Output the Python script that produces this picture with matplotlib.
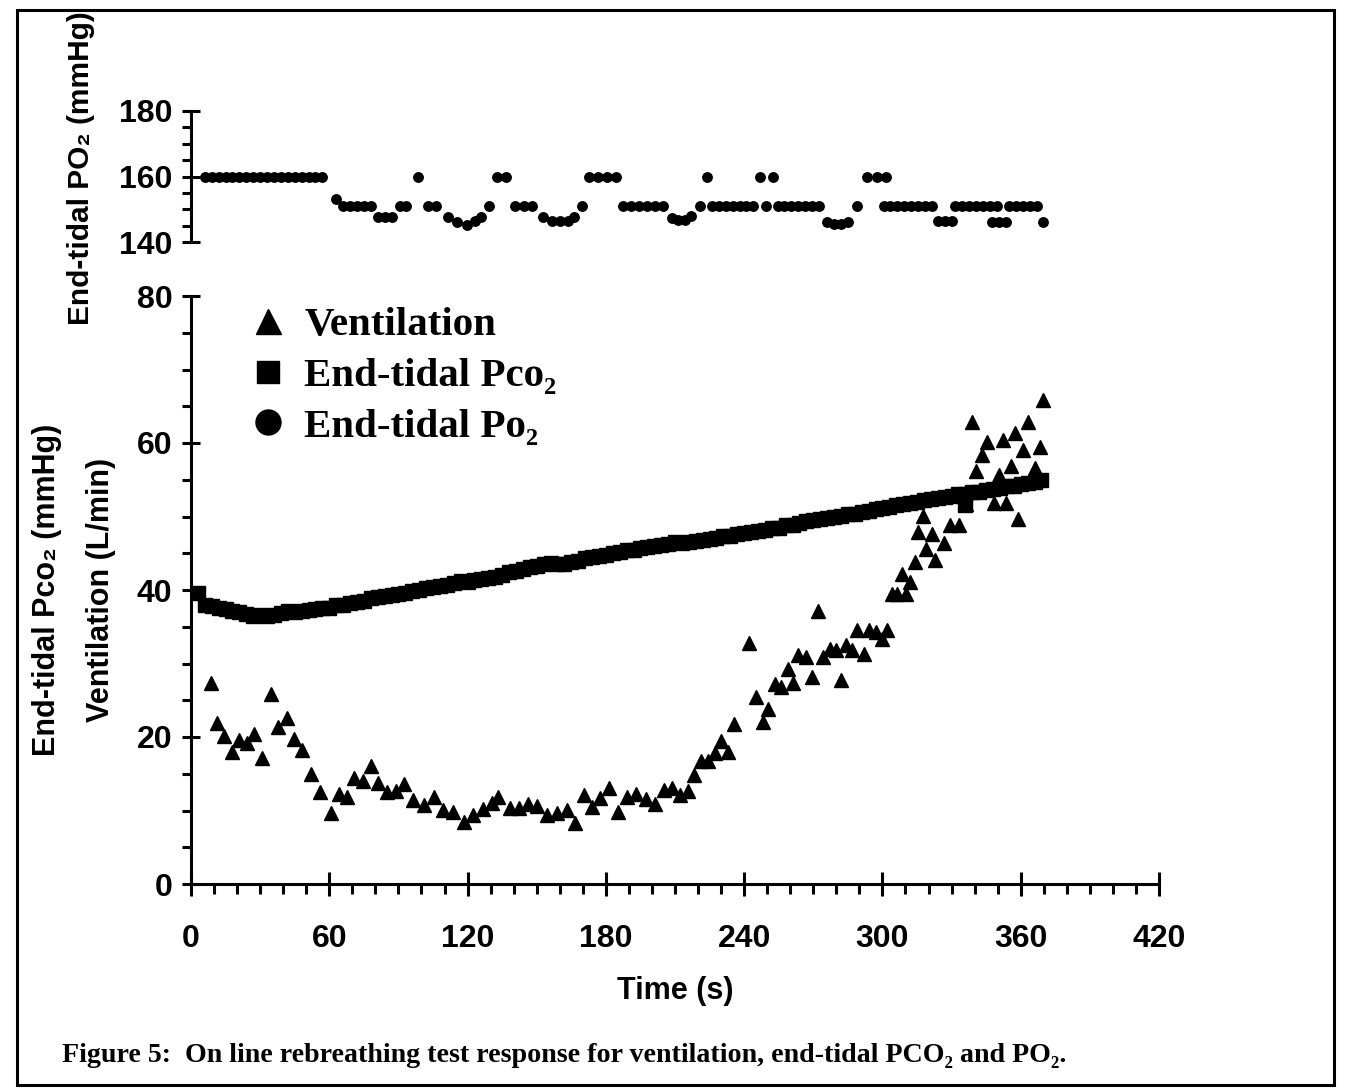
import matplotlib
matplotlib.use("Agg")
import matplotlib.pyplot as plt
from matplotlib.lines import Line2D
from matplotlib.patches import Rectangle
from matplotlib.font_manager import FontProperties

plt.rcParams['font.family'] = ['Liberation Sans', 'DejaVu Sans']
plt.rcParams['font.weight'] = 'bold'

# Ventilation (L/min): (time s, value)
ventilation = [
    (8.5, 27.3), (11.1, 21.9), (14.3, 20.2), (17.8, 18.0), (21.0, 19.6), (24.2, 19.2),
    (27.3, 20.4), (30.7, 17.2), (34.7, 25.8), (37.9, 21.4), (41.5, 22.6), (44.7, 19.7),
    (48.0, 18.2), (51.9, 15.0), (56.0, 12.5), (60.6, 9.7), (64.3, 12.2), (67.8, 11.9),
    (70.7, 14.4), (74.8, 14.0), (78.0, 16.0), (81.3, 13.8), (84.9, 12.5), (88.8, 12.7),
    (92.5, 13.6), (96.4, 11.4), (101.2, 10.8), (105.4, 11.8), (109.5, 10.1), (113.8, 9.8),
    (118.4, 8.4), (122.5, 9.4), (126.5, 10.2), (130.4, 11.0), (133.3, 11.9), (138.4, 10.3),
    (142.4, 10.4), (146.3, 10.9), (150.2, 10.6), (154.3, 9.4), (158.7, 9.6), (163.0, 10.1),
    (166.7, 8.3), (170.5, 12.1), (173.8, 10.5), (177.4, 11.7), (181.3, 13.0), (185.4, 9.8),
    (189.0, 11.8), (193.1, 12.2), (197.3, 11.5), (201.3, 10.9), (205.2, 12.8), (208.8, 13.1),
    (212.1, 12.1), (215.5, 12.6), (218.4, 14.8), (221.3, 16.8), (224.4, 16.8), (227.3, 17.8),
    (229.9, 19.5), (232.8, 17.9), (235.6, 21.8), (242.2, 32.8), (245.1, 25.4), (248.0, 22.1),
    (250.4, 23.8), (253.4, 27.2), (256.0, 26.8), (258.9, 29.3), (261.3, 27.3), (263.2, 31.2),
    (266.8, 30.9), (269.6, 28.2), (272.2, 37.2), (274.4, 30.9), (277.2, 32.0), (279.8, 31.9),
    (282.0, 27.8), (284.2, 32.5), (286.6, 31.9), (289.1, 34.5), (292.0, 31.3), (294.3, 34.6),
    (297.0, 34.3), (299.6, 33.4), (301.8, 34.5), (304.0, 39.5), (306.4, 39.5), (308.3, 42.2),
    (310.2, 39.5), (311.9, 41.1), (314.1, 43.8), (315.5, 47.9), (317.7, 50.1), (319.1, 45.6),
    (321.3, 47.6), (322.8, 44.1), (326.7, 46.4), (329.3, 48.9), (333.2, 48.9), (336.2, 51.7),
    (338.7, 62.9), (340.4, 56.2), (343.4, 58.3), (345.4, 60.2), (348.4, 51.8), (350.5, 55.7),
    (352.4, 60.4), (353.6, 51.9), (355.6, 56.9), (357.6, 61.3), (358.9, 49.7), (361.1, 59.0),
    (363.3, 62.8), (366.2, 56.6), (368.3, 59.5), (369.8, 65.8),
]

# End-tidal PCO2 (mmHg)
pco2 = [
    (3, 39.6), (6, 38.0), (9, 37.8), (12, 37.6), (15, 37.4), (18, 37.2), (21, 37.0),
    (24, 36.8), (27, 36.5), (30, 36.6), (33, 36.5), (36, 36.6), (39, 36.9), (42, 37.1),
    (45, 37.0), (48, 37.2), (51, 37.3), (54, 37.4), (57, 37.5), (60, 37.6), (63, 37.9),
    (66, 38.0), (69, 38.2), (72, 38.3), (75, 38.5), (78, 38.9), (81, 39.1), (84, 39.2),
    (87, 39.3), (90, 39.4), (93, 39.6), (96, 39.8), (99, 40.0), (102, 40.3), (105, 40.4),
    (108, 40.6), (111, 40.7), (114, 41.0), (117, 41.2), (120, 41.1), (123, 41.3), (126, 41.5),
    (129, 41.6), (132, 41.8), (135, 42.0), (138, 42.4), (141, 42.6), (144, 42.9), (147, 43.1),
    (150, 43.3), (153, 43.6), (156, 43.7), (159, 43.5), (162, 43.6), (165, 43.8), (168, 44.0),
    (171, 44.3), (174, 44.5), (177, 44.6), (180, 44.8), (183, 45.0), (186, 45.2), (189, 45.4),
    (192, 45.5), (195, 45.7), (198, 45.8), (201, 46.0), (204, 46.1), (207, 46.3), (210, 46.5),
    (213, 46.4), (216, 46.5), (219, 46.7), (222, 46.8), (225, 46.9), (228, 47.1), (231, 47.3),
    (234, 47.4), (237, 47.6), (240, 47.8), (243, 47.9), (246, 48.0), (249, 48.2), (252, 48.4),
    (255, 48.5), (258, 48.8), (261, 48.9), (264, 49.1), (267, 49.4), (270, 49.5), (273, 49.7),
    (276, 49.8), (279, 50.0), (282, 50.1), (285, 50.3), (288, 50.4), (291, 50.6), (294, 50.8),
    (297, 51.0), (300, 51.1), (303, 51.3), (306, 51.5), (309, 51.7), (312, 51.8), (315, 52.0),
    (318, 52.2), (321, 52.4), (324, 52.5), (327, 52.7), (330, 52.8), (333, 53.0), (336, 53.1),
    (336, 51.6), (339, 53.3), (342, 53.4), (345, 53.6), (348, 53.8), (351, 53.9), (354, 54.1),
    (357, 54.2), (360, 54.4), (363, 54.5), (366, 54.7), (369, 55.0),
]

# End-tidal PO2 (mmHg)
po2 = [
    (6, 160), (9, 160), (12, 160), (15, 160), (18, 160), (21, 160), (24, 160), (27, 160),
    (30, 160), (33, 160), (36, 160), (39, 160), (42, 160), (45, 160), (48, 160), (51, 160),
    (54, 160), (57, 160),
    (62.8, 153), (66, 151), (69, 151), (72, 151), (75, 151), (78, 151),
    (81, 147.5), (84, 147.5), (87, 147.5), (90.5, 151), (93.5, 151), (98.6, 160),
    (103, 151), (106.5, 151), (111.6, 147.5), (115.3, 146), (119.6, 145.3), (123.2, 146.4),
    (125.7, 147.7), (129.3, 151), (132.6, 160), (136.5, 160), (140.6, 151), (144.3, 151),
    (148, 151), (152.8, 147.5), (156.5, 146.3), (160, 146.3), (163.6, 146.5), (166, 147.6),
    (169.5, 151), (172.5, 160), (176.5, 160), (180.5, 160), (184.5, 160),
    (187.5, 151), (191, 151), (194.5, 151), (198, 151), (201.5, 151), (205, 151),
    (208.5, 147.3), (211.5, 146.6), (214.5, 146.8), (217, 148), (220.8, 151), (223.7, 160),
    (226, 151), (229, 151), (232, 151), (235, 151), (238, 151), (241, 151), (244, 151),
    (246.8, 160), (249.7, 151), (252.5, 160),
    (254.5, 151), (257.5, 151), (260.5, 151), (263.5, 151), (266.5, 151), (269.5, 151),
    (272.5, 151), (276, 146), (279, 145.5), (282, 145.5), (285, 146), (288.8, 151),
    (293.5, 160), (297.5, 160), (301.5, 160),
    (300.5, 151), (303.5, 151), (306.5, 151), (309.5, 151), (312.5, 151), (315.5, 151),
    (318.5, 151), (321.5, 151), (324, 146.4), (327, 146.4), (330, 146.4),
    (331.5, 151), (334.5, 151), (337.5, 151), (340.5, 151), (343.5, 151), (346.5, 151),
    (349.5, 151), (347.5, 146.2), (350.5, 146.2), (353.5, 146.2),
    (355, 151), (358, 151), (361, 151), (364, 151), (367, 151), (369.8, 146.2),
]

vent_t, vent_v = zip(*ventilation)
pco2_t, pco2_v = zip(*pco2)
po2_t, po2_v = zip(*po2)

W, H = 1346, 1089
fig = plt.figure(figsize=(W / 100, H / 100), dpi=100)
ax = fig.add_axes([191 / W, 1 - 884 / H, 968 / W, 588 / H])
ax_top = fig.add_axes([191 / W, 1 - 242 / H, 968 / W, 131 / H])

# main panel
ax.plot(pco2_t, pco2_v, ls='none', marker='s', ms=10, color='black', mec='black')
ax.plot(vent_t, vent_v, ls='none', marker='^', ms=9.5, color='black', mec='black', mew=1)
ax.set_xlim(0, 420)
ax.set_ylim(0, 80)
ax.set_xticks(range(0, 421, 60))
ax.set_xticks(range(0, 421, 10), minor=True)
ax.set_yticks(range(0, 81, 20))
ax.set_yticks(range(0, 81, 5), minor=True)
for s in ['top', 'right']:
    ax.spines[s].set_visible(False)
for s in ['left', 'bottom']:
    ax.spines[s].set_linewidth(2.2)
ax.tick_params(axis='y', which='major', direction='inout', length=13, width=2.2,
               labelsize=23, pad=7)
ax.tick_params(axis='y', which='minor', direction='out', length=6.5, width=2.2)
ax.tick_params(axis='x', which='major', direction='inout', length=17, width=2.2,
               labelsize=23, pad=20)
ax.tick_params(axis='x', which='minor', direction='out', length=7, width=2.2)
ax.set_xlabel('Time (s)', fontsize=22, fontweight='bold', labelpad=16)
ax.set_ylabel('End-tidal Pco\u2082 (mmHg)\nVentilation (L/min)', fontsize=22,
              fontweight='bold', linespacing=2.05)
ax.yaxis.set_label_coords(-0.077, 0.5)

# top panel
ax_top.plot(po2_t, po2_v, ls='none', marker='o', ms=6.8, color='black')
ax_top.set_xlim(0, 420)
ax_top.set_ylim(140, 180)
ax_top.set_yticks([140, 160, 180])
ax_top.set_yticks(range(140, 181, 5), minor=True)
for s in ['top', 'right', 'bottom']:
    ax_top.spines[s].set_visible(False)
ax_top.spines['left'].set_linewidth(2.2)
ax_top.tick_params(axis='x', which='both', bottom=False, labelbottom=False)
ax_top.tick_params(axis='y', which='major', direction='inout', length=13, width=2.2,
                   labelsize=23, pad=7)
ax_top.tick_params(axis='y', which='minor', direction='out', length=6.5, width=2.2)
ax_top.set_ylabel('End-tidal PO\u2082 (mmHg)', fontsize=21.5, fontweight='bold')
ax_top.yaxis.set_label_coords(-0.099, 0.565)

# legend
serif = FontProperties(family=['Liberation Serif', 'DejaVu Serif'], weight='bold', size=29.5)
handles = [
    Line2D([], [], ls='none', marker='^', ms=18, color='black'),
    Line2D([], [], ls='none', marker='s', ms=15.5, color='black'),
    Line2D([], [], ls='none', marker='o', ms=18, color='black'),
]
labels = ['Ventilation', 'End-tidal Pco\u2082', 'End-tidal Po\u2082']
ax.legend(handles, labels, loc='upper left', bbox_to_anchor=(0.043, 1.017),
          frameon=False, prop=serif, borderpad=0, handlelength=0.75,
          handletextpad=0.5, labelspacing=0.32)

# caption and frame
fig.text(62 / W, 1 - 1062 / H,
         'Figure 5:  On line rebreathing test response for ventilation, end-tidal PCO\u2082 and PO\u2082.',
         ha='left', va='baseline', fontproperties=FontProperties(
             family=['Liberation Serif', 'DejaVu Serif'], weight='bold', size=20.2))
fig.add_artist(Rectangle((17 / W, 1 - 1085 / H), 1317 / W, 1075 / H,
                         transform=fig.transFigure, fill=False, lw=2.2, ec='black'))

fig.savefig('out.png', dpi=100)
